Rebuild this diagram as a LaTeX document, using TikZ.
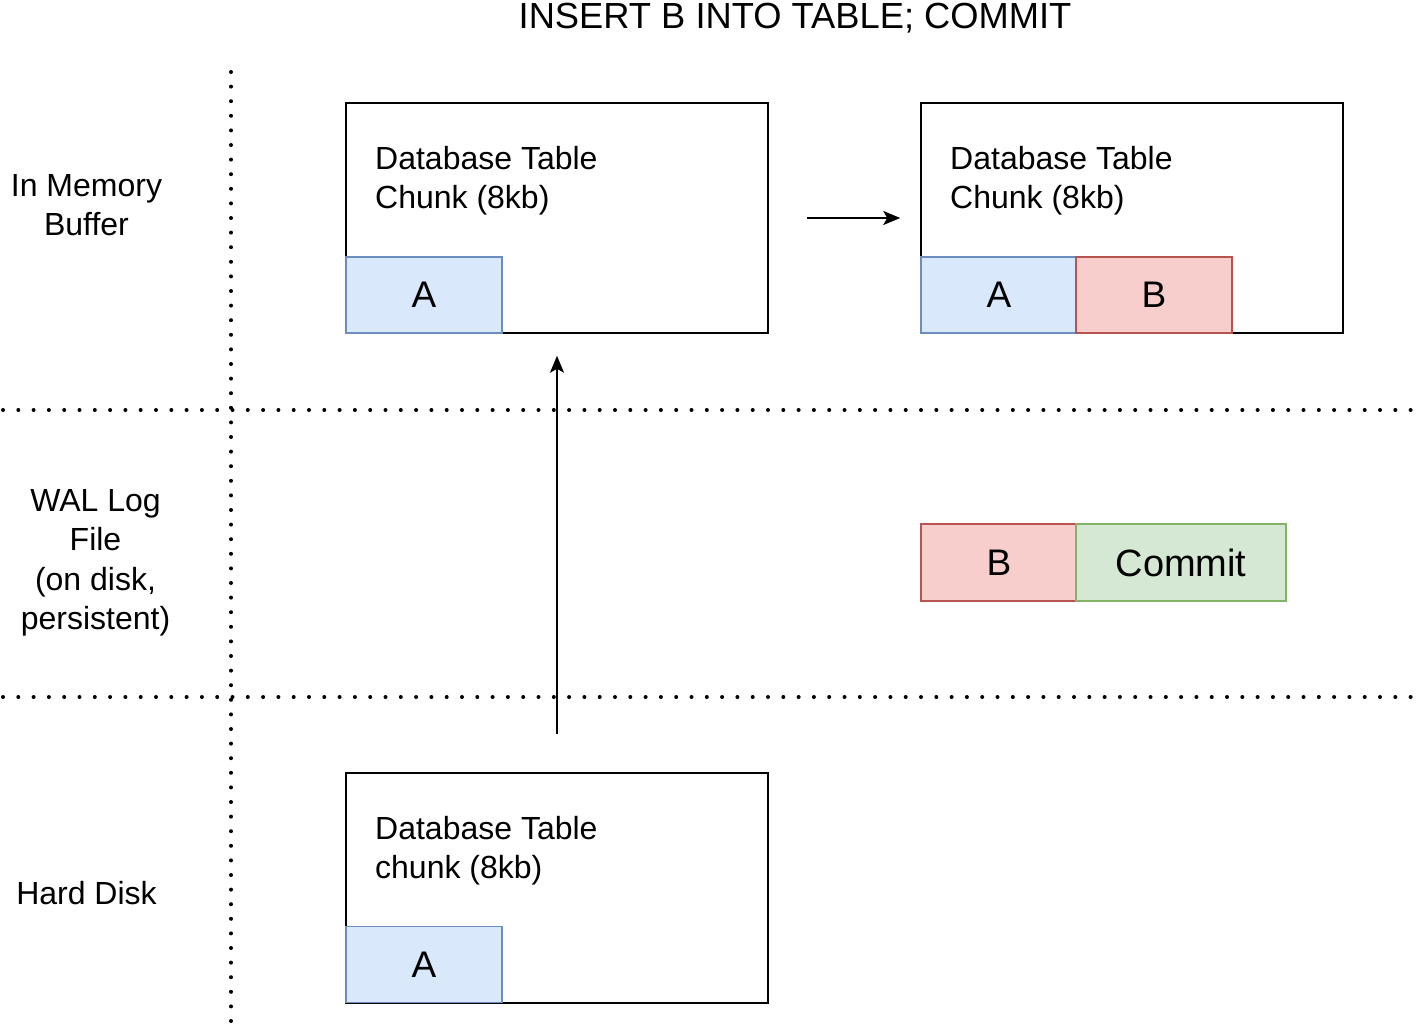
\documentclass[tikz,border=0pt]{standalone}
\usepackage{fontspec}
\setmainfont{Liberation Sans}
\usetikzlibrary{arrows.meta}

\definecolor{blueFill}{HTML}{DAE8FC}
\definecolor{blueLine}{HTML}{6C8EBF}
\definecolor{redFill}{HTML}{F8CECC}
\definecolor{redLine}{HTML}{B85450}
\definecolor{greenFill}{HTML}{D5E8D4}
\definecolor{greenLine}{HTML}{82B366}

\tikzset{
  chunkbox/.style={draw=black, line width=1.5pt, fill=white, minimum width=422pt, minimum height=230pt, inner sep=0pt},
  cellA/.style={draw=blueLine, fill=blueFill, line width=1.5pt, minimum width=156pt, minimum height=76pt, inner sep=0pt, font=\fontsize{37}{44}\selectfont},
  cellB/.style={draw=redLine, fill=redFill, line width=1.5pt, minimum width=156pt, minimum height=76pt, inner sep=0pt, font=\fontsize{37}{44}\selectfont},
  cellC/.style={draw=greenLine, fill=greenFill, line width=1.5pt, minimum width=210pt, minimum height=76pt, inner sep=0pt, font=\fontsize{38}{44}\selectfont},
  chunklabel/.style={anchor=north west, inner sep=0pt, align=left, font=\fontsize{32}{39}\selectfont},
  rowlabel/.style={anchor=north, inner sep=0pt, align=center, font=\fontsize{32}{39.5}\selectfont},
  hdivider/.style={line width=4pt, line cap=round, dash pattern=on 0pt off 15.3pt},
  vdivider/.style={line width=4pt, line cap=round, dash pattern=on 0pt off 14.6pt},
  flow/.style={line width=1.8pt, -{Stealth[length=17pt,width=14pt,inset=4pt]}}
}

\begin{document}
\begin{tikzpicture}[x=1pt, y=-1pt]
  \useasboundingbox (0,0) rectangle (1418,1024);

  % layer dividers
  \coordinate (vTop) at (231,72);
  \coordinate (vBot) at (231,1022);
  \coordinate (h1L) at (3,410);
  \coordinate (h1R) at (1416,410);
  \coordinate (h2L) at (3,697);
  \coordinate (h2R) at (1416,697);
  \draw[vdivider] (vTop) -- (vBot);
  \draw[hdivider] (h1L) -- (h1R);
  \draw[hdivider] (h2L) -- (h2R);

  % title
  \node[anchor=base, inner sep=0pt, font=\fontsize{36.3}{43}\selectfont] (title) at (795,29) {INSERT B INTO TABLE; COMMIT};

  % row labels
  \node[rowlabel] (lblMem) at (86.5,174) {In Memory\\Buffer};
  \node[rowlabel] (lblWal) at (95.5,489) {WAL Log\\File\\(on disk,\\persistent)};
  \node[rowlabel] (lblDisk) at (86.5,881) {Hard Disk};

  % buffer chunk before the insert
  \node[chunkbox] (buf1) at (557,218) {};
  \node[chunklabel] (buf1t) at (375,146) {Database Table\\Chunk (8kb)};
  \node[cellA] (buf1a) at (424,295) {A};

  % buffer chunk after the insert
  \node[chunkbox] (buf2) at (1132,218) {};
  \node[chunklabel] (buf2t) at (950,146) {Database Table\\Chunk (8kb)};
  \node[cellA] (buf2a) at (999,295) {A};
  \node[cellB] (buf2b) at (1154,295) {B};

  % WAL records
  \node[cellB, minimum height=77pt] (walb) at (999,562.5) {B};
  \node[cellC, minimum height=77pt] (walc) at (1181,562.5) {Commit};

  % chunk on disk
  \node[chunkbox] (disk) at (557,888) {};
  \node[chunklabel] (diskt) at (375,816) {Database Table\\chunk (8kb)};
  \node[cellA] (diska) at (424,964.5) {A};

  % data flow
  \draw[flow, shorten <=38pt, shorten >=20pt] (buf1) -- (buf2);
  \draw[flow, shorten <=38pt, shorten >=22pt] (disk.north) -- (buf1.south);
\end{tikzpicture}
\end{document}
